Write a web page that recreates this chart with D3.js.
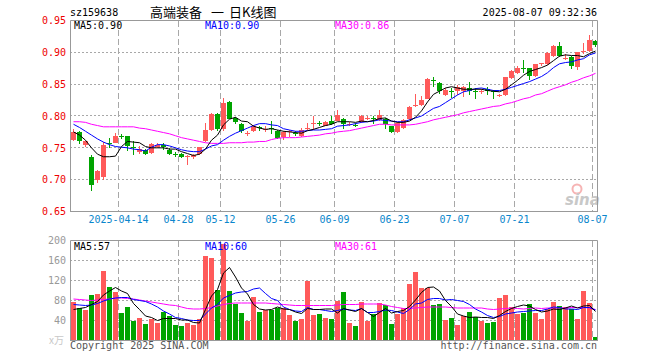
<!DOCTYPE html>
<html>
<head>
<meta charset="utf-8">
<script src="https://cdn.jsdelivr.net/npm/d3@7/dist/d3.min.js"></script>
<style>
  body { margin: 0; background: #fff; }
  text { font-family: 'DejaVu Sans Mono', monospace; font-size: 10px; }
</style>
</head>
<body>
<div id="chart"></div>
<script>
// trading days shown on the chart
let dates = [
  '2025-04-01','2025-04-02','2025-04-03','2025-04-07','2025-04-08','2025-04-09','2025-04-10','2025-04-11',
  '2025-04-14','2025-04-15','2025-04-16','2025-04-17','2025-04-18','2025-04-21','2025-04-22','2025-04-23',
  '2025-04-24','2025-04-25','2025-04-28','2025-04-29','2025-04-30','2025-05-06','2025-05-07','2025-05-08',
  '2025-05-09','2025-05-12','2025-05-13','2025-05-14','2025-05-15','2025-05-16','2025-05-19','2025-05-20',
  '2025-05-21','2025-05-22','2025-05-23','2025-05-26','2025-05-27','2025-05-28','2025-05-29','2025-05-30',
  '2025-06-03','2025-06-04','2025-06-05','2025-06-06','2025-06-09','2025-06-10','2025-06-11','2025-06-12',
  '2025-06-13','2025-06-16','2025-06-17','2025-06-18','2025-06-19','2025-06-20','2025-06-23','2025-06-24',
  '2025-06-25','2025-06-26','2025-06-27','2025-06-30','2025-07-01','2025-07-02','2025-07-03','2025-07-04',
  '2025-07-07','2025-07-08','2025-07-09','2025-07-10','2025-07-11','2025-07-14','2025-07-15','2025-07-16',
  '2025-07-17','2025-07-18','2025-07-21','2025-07-22','2025-07-23','2025-07-24','2025-07-25','2025-07-28',
  '2025-07-29','2025-07-30','2025-07-31','2025-08-01','2025-08-04','2025-08-05','2025-08-06','2025-08-07'
];

// OHLC
let opens = [
  .762,.7755,.755,.735,.699,.704,.758,.758,.769,.768,
  .752,.744,.746,.742,.751,.754,.747,.740,.740,.735,
  .735,.7396,.760,.778,.803,.779,.822,.797,.788,.772,
  .776,.782,.779,.7805,.777,.767,.775,.773,.768,.780,
  .788,.7885,.785,.7927,.7927,.7958,.787,.786,.790,.7965,
  .7975,.7932,.7958,.7838,.7755,.781,.7953,.816,.817,.8266,
  .857,.8516,.8333,.839,.8385,.839,.8443,.839,.838,.842,
  .839,.8325,.8333,.859,.867,.8755,.875,.863,.8822,.8817,
  .8943,.910,.890,.8932,.8776,.902,.9026,.9177
];
let highs = [
  .780,.777,.761,.738,.715,.759,.765,.774,.771,.769,
  .760,.753,.748,.757,.757,.757,.750,.743,.742,.739,
  .741,.752,.789,.804,.804,.828,.823,.798,.789,.776,
  .786,.785,.784,.792,.778,.777,.778,.776,.781,.789,
  .800,.792,.792,.7995,.810,.797,.791,.789,.801,.800,
  .800,.810,.797,.785,.790,.796,.815,.835,.832,.860,
  .862,.853,.8437,.8437,.849,.847,.854,.8437,.843,.846,
  .841,.835,.862,.872,.878,.8875,.876,.882,.884,.900,
  .912,.9162,.898,.894,.901,.9151,.927,.920
];
let lows = [
  .760,.7557,.752,.682,.695,.700,.750,.757,.764,.745,
  .738,.741,.739,.741,.749,.747,.738,.736,.734,.723,
  .733,.739,.759,.776,.777,.777,.795,.787,.773,.768,
  .775,.776,.775,.771,.764,.763,.767,.768,.767,.778,
  .7786,.784,.784,.786,.792,.779,.784,.782,.789,.793,
  .788,.792,.779,.774,.774,.780,.794,.814,.816,.826,
  .846,.835,.8307,.828,.833,.830,.833,.826,.834,.833,
  .826,.830,.832,.858,.866,.867,.857,.861,.878,.880,
  .893,.893,.888,.874,.8724,.898,.900,.908
];
let closes = [
  .775,.760,.760,.692,.7135,.755,.757,.768,.768,.7526,
  .751,.748,.741,.756,.754,.751,.740,.739,.736,.737,
  .739,.751,.778,.803,.779,.820,.796,.791,.776,.773,
  .784,.781,.780,.7795,.765,.775,.776,.772,.7786,.781,
  .789,.7875,.790,.7875,.802,.7875,.7875,.785,.7995,.797,
  .797,.802,.7875,.7755,.789,.7943,.814,.8165,.8245,.858,
  .856,.8385,.8411,.838,.8463,.845,.840,.8385,.839,.8385,
  .8385,.8335,.862,.8713,.876,.875,.863,.8817,.883,.8995,
  .910,.8943,.8906,.8786,.900,.9026,.9193,.9115
];

// price moving averages as drawn
let ma5 = [
  .775,.770,.762,.750,.740,.736,.736,.737,.752,.760,
  .759,.758,.752,.750,.750,.750,.748,.748,.744,.741,
  .738,.740,.748,.762,.770,.786,.795,.798,.792,.791,
  .784,.781,.779,.780,.778,.776,.775,.774,.773,.777,
  .779,.782,.785,.787,.791,.791,.791,.790,.792,.791,
  .793,.796,.797,.792,.790,.790,.792,.798,.808,.822,
  .834,.839,.844,.846,.844,.842,.842,.842,.842,.840,
  .839,.838,.842,.849,.856,.864,.870,.873,.876,.880,
  .887,.894,.896,.895,.895,.893,.898,.902
];
let ma10 = [
  .787,.782,.776,.770,.764,.759,.755,.752,.751,.750,
  .748,.747,.745,.751,.755,.755,.753,.750,.747,.745,
  .744,.744,.748,.753,.755,.762,.768,.773,.777,.781,
  .785,.788,.788,.786,.785,.780,.778,.776,.776,.777,
  .778,.778,.779,.780,.784,.785,.786,.788,.790,.791,
  .792,.794,.793,.792,.791,.791,.794,.797,.800,.806,
  .812,.815,.821,.827,.833,.838,.840,.843,.844,.842,
  .840,.840,.842,.845,.848,.851,.854,.858,.862,.868,
  .876,.882,.884,.885,.888,.890,.896,.899
];
let ma30 = [
  .791,.791,.790,.787,.785,.783,.783,.783,.783,.783,
  .783,.781,.780,.778,.776,.774,.772,.769,.766,.764,
  .762,.760,.758,.757,.757,.757,.758,.758,.758,.759,
  .759,.760,.760,.763,.765,.766,.766,.766,.767,.768,
  .769,.770,.772,.773,.775,.776,.777,.779,.781,.783,
  .785,.787,.787,.786,.786,.786,.786,.787,.789,.791,
  .794,.796,.798,.800,.802,.805,.807,.809,.811,.813,
  .815,.816,.819,.821,.824,.827,.829,.833,.835,.839,
  .843,.846,.849,.853,.856,.860,.863,.867
];

// volume (x万) and its averages
let volumes = [
  77,65,62,92,94,140,107,98,56,68,
  40,46,34,44,36,58,50,32,30,36,
  31,44,170,165,102,194,100,74,56,40,
  88,58,62,62,66,66,52,40,44,120,
  52,54,46,44,80,98,36,30,78,40,
  54,76,72,34,54,66,114,138,106,106,
  72,74,42,46,32,50,58,48,40,36,
  38,86,92,68,54,56,74,56,44,64,
  78,70,68,64,44,100,76,6
];
let volMa5 = [
  62,64,66,72,78,91,99,106,99,94,
  74,62,49,46,40,44,44,44,41,41,
  36,35,62,89,102,135,146,127,105,93,
  72,63,61,62,67,63,62,57,54,64,
  62,62,63,63,55,64,61,58,64,56,
  48,56,64,55,58,60,68,81,96,106,
  107,99,80,68,53,49,46,47,46,46,
  44,50,58,64,68,71,69,62,57,59,
  63,62,65,69,65,69,70,58
];
let volMa10 = [
  72,71,70,71,74,79,83,85,86,86,
  82,80,78,73,67,59,53,46,44,41,
  40,40,53,65,72,85,90,95,97,98,
  103,105,94,84,80,67,62,59,58,66,
  62,62,60,58,60,63,61,60,64,56,
  56,58,61,60,57,54,62,73,75,82,
  84,84,81,82,80,78,72,63,57,50,
  46,48,53,55,57,58,59,60,60,63,
  67,66,63,63,62,66,66,61
];
let volMa30 = [
  83,82,81,80,81,82,83,85,85,84,
  83,81,79,77,75,73,71,70,67,64,
  63,63,64,66,69,72,74,75,75,75,
  75,75,75,74,73,72,71,70,70,70,
  70,70,70,70,71,72,72,72,73,73,
  73,73,71,68,66,64,64,65,66,67,
  67,67,67,66,65,65,65,65,65,63,
  62,63,64,65,64,63,64,65,64,65,
  65,65,65,66,66,66,65,62
];

// axis ticks
let priceTicks = [0.95, 0.90, 0.85, 0.80, 0.75, 0.70, 0.65];
let volTicks = [200, 160, 120, 80, 40];
let tickDates = ['2025-04-14','2025-04-28','2025-05-12','2025-05-26','2025-06-09',
                 '2025-06-23','2025-07-07','2025-07-21','2025-08-07'];

let red = '#ff5a5a';
let green = '#00a400';
let gridColor = '#a8a8a8';

let svg = d3.select('#chart')
            .append('svg')
            .attr('width', 660)
            .attr('height', 360);

// scales
let x = d3.scaleBand().domain(dates).range([71, 71 + 6 * dates.length]);
let y = d3.scaleLinear().domain([0.65, 0.95]).range([211.5, 20.5]);
let yv = d3.scaleLinear().domain([0, 200]).range([340.5, 240.5]);
let cx = function(d){ return x(d) + 2.5; };
let snap = function(v){ return Math.round(v - 0.5) + 0.5; };

// header
svg.append('text').attr('x', 70).attr('y', 16).text('sz159638');
svg.append('text').attr('x', 597).attr('y', 16).attr('text-anchor', 'end').text('2025-08-07 09:32:36');
let cjk = "'Noto Sans CJK SC', sans-serif";
svg.append('text').attr('x', 150).attr('y', 17).style('font-family', cjk).style('font-size', '13px').text('高端装备');
svg.append('text').attr('x', 211).attr('y', 17).style('font-family', cjk).style('font-size', '13px').text('一');
svg.append('text').attr('x', 229).attr('y', 17).style('font-family', cjk).style('font-size', '13px').text('日K线图');

// grids
function panelGrid(top, bottom, hLines){
  svg.append('g').selectAll('line')
     .data(hLines).enter().append('line')
     .attr('x1', 70).attr('x2', 597)
     .attr('y1', d => d).attr('y2', d => d)
     .attr('stroke', gridColor).attr('stroke-dasharray', '2,2');
  svg.append('g').selectAll('line')
     .data(tickDates).enter().append('line')
     .attr('x1', d => x(d) - 0.5).attr('x2', d => x(d) - 0.5)
     .attr('y1', top).attr('y2', bottom)
     .attr('stroke', gridColor).attr('stroke-dasharray', '6,3');
}
panelGrid(21, 211, [0.90, 0.85, 0.80, 0.75, 0.70].map(v => snap(y(v))));
panelGrid(241, 340, [160, 120, 80, 40].map(v => snap(yv(v))));

// sina watermark
svg.append('circle').attr('cx', 577).attr('cy', 189).attr('r', 4.5)
   .attr('fill', 'none').attr('stroke', '#f6b4b4').attr('stroke-width', 2);
svg.append('text').attr('x', 565).attr('y', 205)
   .style('font-family', 'DejaVu Sans').style('font-size', '15px')
   .style('font-style', 'italic').style('font-weight', 'bold')
   .attr('fill', '#c8c8c8').text('sina');

// candles
let idx = d3.range(dates.length);
let colorOf = i => closes[i] >= opens[i] ? red : green;

svg.append('g').selectAll('rect')
   .data(idx).enter().append('rect')
   .attr('x', i => x(dates[i]) + 2)
   .attr('y', i => Math.round(y(highs[i])))
   .attr('width', 1)
   .attr('height', i => Math.max(1, Math.round(y(lows[i])) - Math.round(y(highs[i]))))
   .attr('fill', colorOf);

svg.append('g').selectAll('rect')
   .data(idx).enter().append('rect')
   .attr('x', i => x(dates[i]))
   .attr('y', i => Math.round(y(Math.max(opens[i], closes[i]))))
   .attr('width', 5)
   .attr('height', i => Math.max(1, Math.round(y(Math.min(opens[i], closes[i]))) - Math.round(y(Math.max(opens[i], closes[i])))))
   .attr('fill', colorOf);

// volume bars
svg.append('g').selectAll('rect')
   .data(idx).enter().append('rect')
   .attr('x', i => x(dates[i]))
   .attr('y', i => Math.round(yv(volumes[i])))
   .attr('width', 5)
   .attr('height', i => 340 - Math.round(yv(volumes[i])))
   .attr('fill', colorOf);

// moving average lines
function maLine(values, scale, color){
  let line = d3.line().x((d, i) => cx(dates[i])).y(d => scale(d));
  svg.append('path').datum(values)
     .attr('d', line).attr('fill', 'none')
     .attr('stroke', color).attr('stroke-width', 1);
}
maLine(ma30, y, '#ff00ff');
maLine(ma10, y, '#0000ff');
maLine(ma5, y, '#000000');
maLine(volMa30, yv, '#ff00ff');
maLine(volMa10, yv, '#0000ff');
maLine(volMa5, yv, '#000000');

// panel borders
[[20.5, 211.5], [240.5, 340.5]].forEach(function(p){
  svg.append('path')
     .attr('d', 'M70.5,' + p[1] + 'V' + p[0] + 'H597.5V' + p[1])
     .attr('fill', 'none').attr('stroke', '#999');
  svg.append('line').attr('x1', 70).attr('x2', 598).attr('y1', p[1]).attr('y2', p[1]).attr('stroke', '#999');
});

// price axis
let yAxis = svg.append('g')
   .attr('transform', 'translate(70,0)')
   .call(d3.axisLeft(y).tickValues(priceTicks).tickSize(0).tickPadding(4).tickFormat(d3.format('.2f')));
yAxis.select('.domain').remove();
yAxis.selectAll('text').attr('fill', '#ee0000').style('font-size', '10px').style('font-family', "'DejaVu Sans Mono', monospace");

// volume axis
let vAxis = svg.append('g')
   .attr('transform', 'translate(70,0)')
   .call(d3.axisLeft(yv).tickValues(volTicks).tickSize(0).tickPadding(4));
vAxis.select('.domain').remove();
vAxis.selectAll('text').attr('fill', '#999').style('font-size', '10px').style('font-family', "'DejaVu Sans Mono', monospace");
svg.append('text').attr('x', 64).attr('y', 344).attr('text-anchor', 'end').attr('fill', '#c8c8c8')
   .style('font-family', cjk).text('x万');

// date axis
let xAxis = svg.append('g')
   .attr('transform', 'translate(-3.5,211)')
   .call(d3.axisBottom(x).tickValues(tickDates).tickSize(0).tickPadding(5)
           .tickFormat(d => d === '2025-04-14' ? d : d.slice(5)));
xAxis.select('.domain').remove();
xAxis.selectAll('text').attr('fill', '#0a86cc').style('font-size', '10px').style('font-family', "'DejaVu Sans Mono', monospace");

// legends
let last = dates.length - 1;
svg.append('text').attr('x', 74).attr('y', 29).text('MA5:' + ma5[last].toFixed(2));
svg.append('text').attr('x', 205).attr('y', 29).attr('fill', '#0000ff').text('MA10:' + ma10[last].toFixed(2));
svg.append('text').attr('x', 335).attr('y', 29).attr('fill', '#ff00ff').text('MA30:' + (Math.floor(ma30[last] * 100) / 100).toFixed(2));
svg.append('text').attr('x', 74).attr('y', 250).text('MA5:57');
svg.append('text').attr('x', 205).attr('y', 250).attr('fill', '#0000ff').text('MA10:60');
svg.append('text').attr('x', 335).attr('y', 250).attr('fill', '#ff00ff').text('MA30:61');

// footer
svg.append('text').attr('x', 70).attr('y', 349).attr('fill', '#555').text('Copyright 2025 SINA.COM');
svg.append('text').attr('x', 597).attr('y', 349).attr('text-anchor', 'end').attr('fill', '#555').text('http://finance.sina.com.cn');
</script>
</body>
</html>
